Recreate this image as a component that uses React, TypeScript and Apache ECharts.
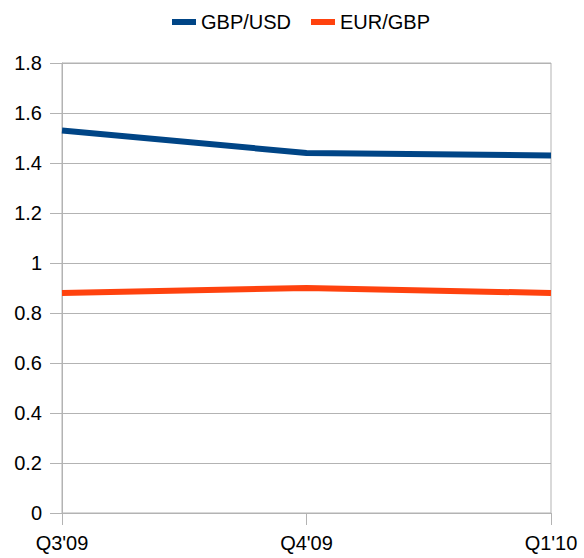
import React, { useEffect, useRef } from "react";
import * as echarts from "echarts";

const categories = ["Q3'09", "Q4'09", "Q1'10"];
const gbpUsd = [1.53, 1.44, 1.43];
const eurGbp = [0.88, 0.9, 0.88];
const seriesNames = ["GBP/USD", "EUR/GBP"];

export default function App() {
  const ref = useRef<HTMLDivElement>(null);
  useEffect(() => {
    if (!ref.current) return;
    const chart = echarts.init(ref.current, null, { renderer: "svg" });
    const font = "Liberation Sans, Arial, sans-serif";
    chart.setOption({
      animation: false,
      backgroundColor: "#ffffff",
      legend: {
        top: 7,
        left: 167,
        itemWidth: 24,
        itemHeight: 6,
        itemGap: 20,
        icon: "rect",
        textStyle: { fontSize: 20, color: "#000", fontFamily: font },
        data: seriesNames,
      },
      grid: {
        left: 62,
        right: 33,
        top: 63,
        bottom: 45,
        show: true,
        borderColor: "#b3b3b3",
        borderWidth: 1,
        containLabel: false,
      },
      xAxis: {
        type: "category",
        data: categories,
        boundaryGap: false,
        axisLine: { show: true, lineStyle: { color: "#b3b3b3", width: 1 } },
        axisTick: { show: true, length: 12, lineStyle: { color: "#b3b3b3" } },
        axisLabel: { color: "#000", fontSize: 20, fontFamily: font, margin: 20 },
        splitLine: { show: false },
      },
      yAxis: {
        type: "value",
        min: 0,
        max: 1.8,
        interval: 0.2,
        axisLine: { show: true, lineStyle: { color: "#b3b3b3", width: 1 } },
        axisTick: { show: true, length: 12, lineStyle: { color: "#b3b3b3" } },
        axisLabel: {
          color: "#000",
          fontSize: 20,
          fontFamily: font,
          margin: 20,
          formatter: (v: number) => String(Math.round(v * 10) / 10),
        },
        splitLine: { show: true, lineStyle: { color: "#b3b3b3", width: 1 } },
      },
      series: [
        {
          name: seriesNames[0],
          type: "line",
          data: gbpUsd,
          symbol: "none",
          color: "#004586",
          lineStyle: { width: 6, color: "#004586" },
        },
        {
          name: seriesNames[1],
          type: "line",
          data: eurGbp,
          symbol: "none",
          color: "#ff420e",
          lineStyle: { width: 6, color: "#ff420e" },
        },
      ],
    });
    return () => chart.dispose();
  }, []);
  return <div ref={ref} style={{ width: 584, height: 558, position: "absolute", left: 0, top: 0 }} />;
}
